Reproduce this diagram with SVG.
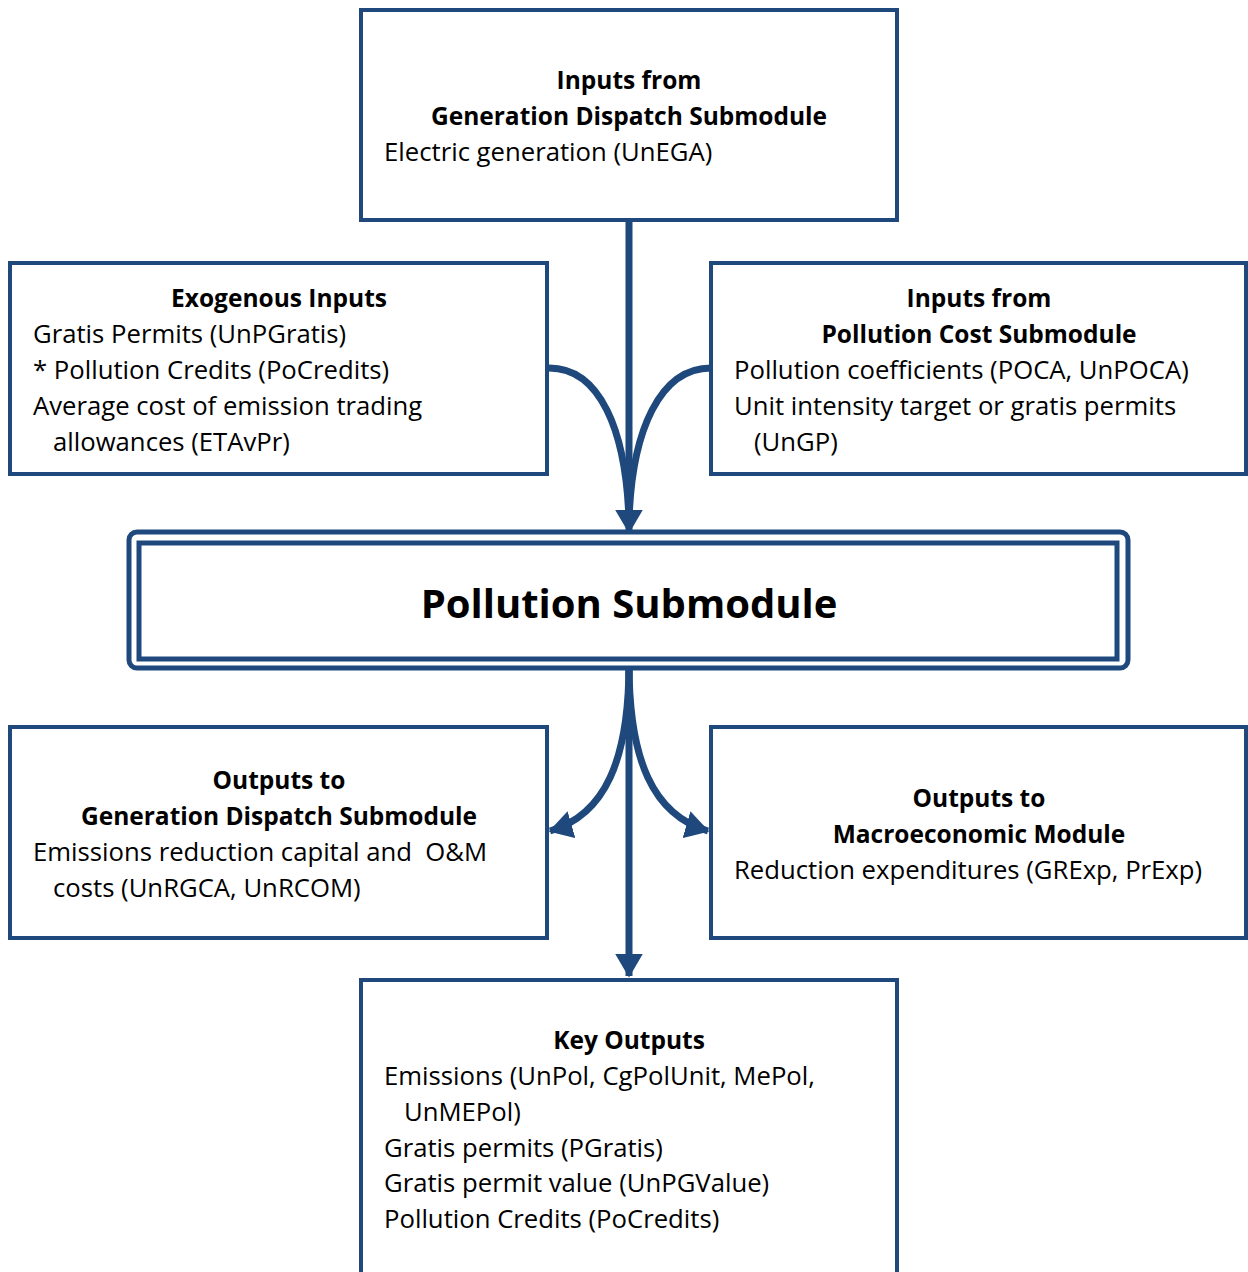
<svg xmlns="http://www.w3.org/2000/svg" width="1248" height="1272" viewBox="0 0 1248 1272">
<defs>
<style>
.box{fill:#fff;stroke:#1F497D;stroke-width:4}
.t{font-family:"Open Sans","Liberation Sans",sans-serif;font-size:25.7px;fill:#000}
.b{font-weight:bold;text-anchor:middle;font-size:24.5px}
.title{font-family:"Open Sans","Liberation Sans",sans-serif;font-size:40px;font-weight:bold;text-anchor:middle;fill:#000}
.c{fill:none;stroke:#1F497D;stroke-width:7}
</style>
<marker id="ah" markerWidth="4" markerHeight="4" refX="3.2" refY="2" orient="auto" markerUnits="strokeWidth">
<path d="M0,0 L3.4,2 L0,4 Z" fill="#1F497D"/>
</marker>
</defs>
<rect width="1248" height="1272" fill="#fff"/>
<g id="connectors">
<path class="c" d="M629,220 V532" marker-end="url(#ah)"/>
<path class="c" d="M549,368 C600,368 626,430 629,520"/>
<path class="c" d="M711,368 C660,368 632,430 629,520"/>
<path class="c" d="M629,664 V976" marker-end="url(#ah)"/>
<path class="c" d="M629,664 C629,760 605,815 550,831" marker-end="url(#ah)"/>
<path class="c" d="M629,664 C629,760 653,815 708,831" marker-end="url(#ah)"/>
</g>
<g id="gen-dispatch-inputs">
<rect class="box" x="361" y="10" width="536" height="210"/>
<text class="t b" x="629" y="89">Inputs from</text>
<text class="t b" x="629" y="125">Generation Dispatch Submodule</text>
<text class="t" x="384" y="161">Electric generation (UnEGA)</text>
</g>
<g id="exogenous-inputs">
<rect class="box" x="10" y="263" width="537" height="211"/>
<text class="t b" x="279" y="307">Exogenous Inputs</text>
<text class="t" x="33" y="343">Gratis Permits (UnPGratis)</text>
<text class="t" x="33" y="379">* Pollution Credits (PoCredits)</text>
<text class="t" x="33" y="415">Average cost of emission trading</text>
<text class="t" x="53" y="451">allowances (ETAvPr)</text>
</g>
<g id="pollution-cost-inputs">
<rect class="box" x="711" y="263" width="535" height="211"/>
<text class="t b" x="979" y="307">Inputs from</text>
<text class="t b" x="979" y="343">Pollution Cost Submodule</text>
<text class="t" x="734" y="379">Pollution coefficients (POCA, UnPOCA)</text>
<text class="t" x="734" y="415">Unit intensity target or gratis permits</text>
<text class="t" x="754" y="451">(UnGP)</text>
</g>
<g id="pollution-submodule">
<rect x="129" y="532" width="999" height="136" rx="8" fill="#fff" stroke="#1F497D" stroke-width="5"/>
<rect x="139" y="543" width="978" height="116" fill="#fff" stroke="#1F497D" stroke-width="5"/>
<text class="title" x="629" y="618">Pollution Submodule</text>
</g>
<g id="gen-dispatch-outputs">
<rect class="box" x="10" y="727" width="537" height="211"/>
<text class="t b" x="279" y="789">Outputs to</text>
<text class="t b" x="279" y="825">Generation Dispatch Submodule</text>
<text class="t" x="33" y="861">Emissions reduction capital and&#160; O&amp;M</text>
<text class="t" x="53" y="897">costs (UnRGCA, UnRCOM)</text>
</g>
<g id="macro-outputs">
<rect class="box" x="711" y="727" width="535" height="211"/>
<text class="t b" x="979" y="807">Outputs to</text>
<text class="t b" x="979" y="843">Macroeconomic Module</text>
<text class="t" x="734" y="879">Reduction expenditures (GRExp, PrExp)</text>
</g>
<g id="key-outputs">
<rect class="box" x="361" y="980" width="536" height="300"/>
<text class="t b" x="629" y="1049">Key Outputs</text>
<text class="t" x="384" y="1085">Emissions (UnPol, CgPolUnit, MePol,</text>
<text class="t" x="404" y="1121">UnMEPol)</text>
<text class="t" x="384" y="1157">Gratis permits (PGratis)</text>
<text class="t" x="384" y="1192">Gratis permit value (UnPGValue)</text>
<text class="t" x="384" y="1228">Pollution Credits (PoCredits)</text>
</g>
</svg>
